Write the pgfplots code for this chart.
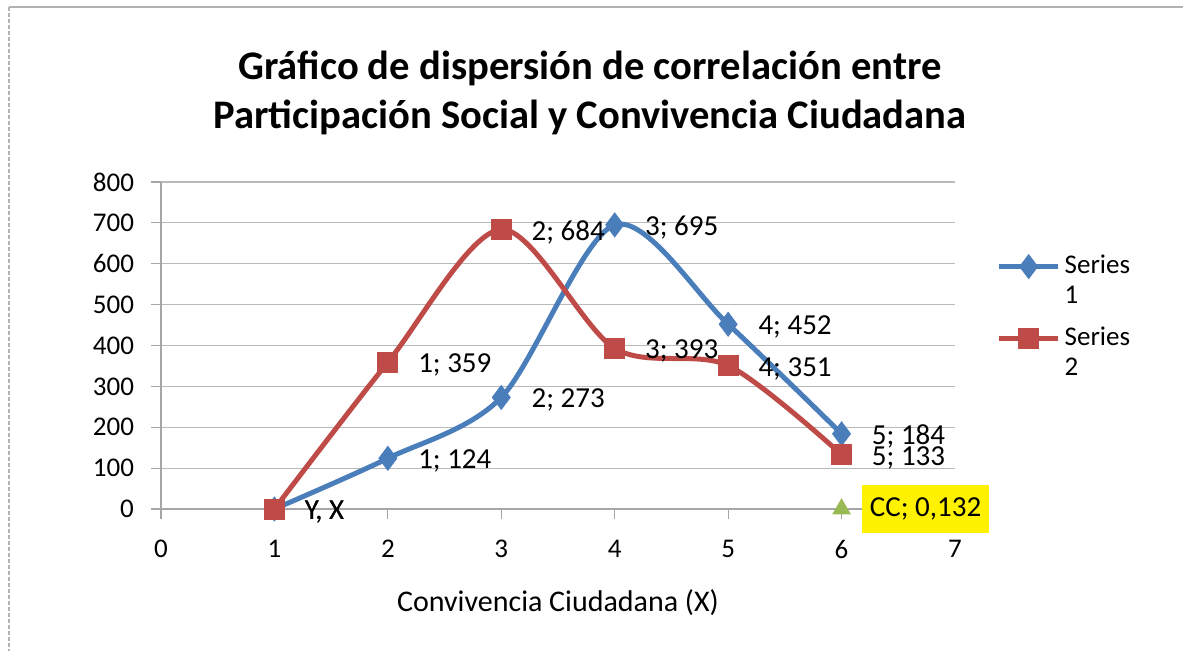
\documentclass[border=0pt]{standalone}
\usepackage{fontspec}
\setmainfont{Carlito}
\usepackage{pgfplots}
\pgfplotsset{compat=1.18}
\definecolor{sblue}{HTML}{4A7EBB}
\definecolor{sred}{HTML}{BE4B48}
\definecolor{sgreen}{HTML}{98B954}
\begin{document}
\begin{tikzpicture}[x=1pt,y=1pt]
\useasboundingbox (0,0) rectangle (591.5,325.5);
\draw[gray!60, line width=0.6pt] (4.5,322) -- (591.5,322);
\draw[gray!60, line width=0.6pt, dash pattern=on 2pt off 1pt] (4.5,322) -- (4.5,0);
\node[font=\bfseries\fontsize{20.3}{24}\selectfont] at (295,291.5) {Gráfico de dispersión de correlación entre};
\node[font=\bfseries\fontsize{20.3}{24}\selectfont] at (295,267) {Participación Social y Convivencia Ciudadana};
\begin{axis}[
  at={(80.5pt,71pt)}, anchor=origin,
  scale only axis, width=397pt, height=163.5pt,
  xmin=0, xmax=7, ymin=0, ymax=800,
  xtick={0,...,7}, ytick={0,100,...,800},
  axis lines=left, axis line style={-, gray!70, line width=0.6pt},
  tick align=outside, major tick length=5pt, tick style={gray!70, line width=0.6pt},
  ymajorgrids, grid style={gray!55, line width=0.6pt},
  clip=false,
  /pgf/number format/assume math mode=true,
  ticklabel style={font=\fontsize{13.5}{16}\selectfont},
  yticklabel style={xshift=-5pt},
  xticklabel style={yshift=-7pt},
  xlabel={Convivencia Ciudadana (X)},
  xlabel style={at={(axis description cs:0.5,0)}, anchor=center, yshift=-47pt, font=\fontsize{15}{18}\selectfont},
  legend style={at={(axis description cs:1.052,0.79)}, anchor=north west, draw=none, fill=none,
    font=\fontsize{13.5}{15}\selectfont, row sep=21pt, inner sep=0pt, cells={anchor=base west}},
  legend image code/.code={\draw[mark repeat=2,mark phase=2,#1] plot coordinates {(0pt,3.5pt) (14.75pt,3.5pt) (29.5pt,3.5pt)};},
  point meta=y,
  nodes near coords={\ifnum\coordindex=0 Y, X\else\pgfmathprintnumber{\coordindex}; \pgfmathprintnumber[fixed,precision=0]{\pgfplotspointmeta}\fi},
  every node near coord/.append style={anchor=west, xshift=15pt, yshift=-1.5pt, font=\fontsize{14.5}{16}\selectfont, text=black, inner sep=0pt},
]
\addplot[sblue, line width=2.5pt, smooth, tension=0.5, mark=diamond*, mark size=6pt, mark options={solid, line width=0.4pt, fill=sblue}]
  table {
x y
1 0
2 124
3 273
4 695
5 452
6 184
};
\addlegendentry{\vtop{\hbox{Series}\hbox{1}}}
\addplot[sred, line width=2.5pt, smooth, tension=0.5, mark=square*, mark size=5pt, mark options={solid, line width=0.4pt, fill=sred}]
  table {
x y
1 0
2 359
3 684
4 393
5 351
6 133
};
\addlegendentry{\vtop{\hbox{Series}\hbox{2}}}
\addplot[forget plot, only marks, mark=triangle*, mark size=5pt, color=sgreen, mark options={fill=sgreen},
  nodes near coords={CC; 0,132},
  every node near coord/.append style={xshift=-5pt, yshift=1.5pt, fill=yellow, inner xsep=4pt, inner ysep=6pt, minimum height=24pt}]
  table {
x y
6 0
};
\end{axis}
\end{tikzpicture}
\end{document}
